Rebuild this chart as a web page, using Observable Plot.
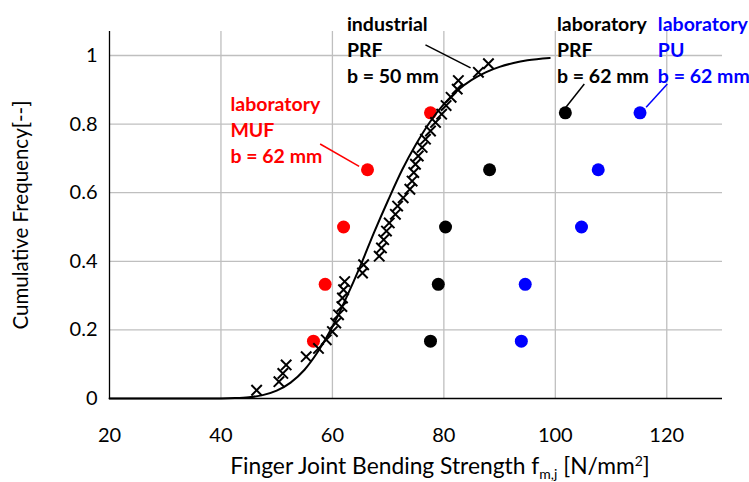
<!DOCTYPE html>
<html>
<head>
<meta charset="utf-8">
<script src="https://cdn.jsdelivr.net/npm/d3@7"></script>
<script src="https://cdn.jsdelivr.net/npm/@observablehq/plot@0.6"></script>
<style>
  html, body { margin: 0; padding: 0; background: #fff; }
  #chart { width: 749px; height: 482px; }
  svg { display: block; }
</style>
</head>
<body>
<div id="chart"></div>
<script>
// ---- data ----
const xTicks = [20, 40, 60, 80, 100, 120];
const yTicks = [0, 0.2, 0.4, 0.6, 0.8, 1];
const yTickLabels = ["0", "0.2", "0.4", "0.6", "0.8", "1"];

// industrial PRF, b = 50 mm (crosses)
const indX = [46.4, 50.4, 51.1, 51.7, 55.3, 57.5, 58.9, 60.0, 60.6, 61.1,
              61.7, 61.8, 62.0, 62.2, 65.4, 65.6, 68.4, 68.8, 69.2, 69.7,
              70.2, 71.3, 71.7, 72.7, 73.9, 74.3, 74.6, 74.9, 75.4, 76.1,
              76.7, 77.6, 78.5, 79.6, 80.4, 81.3, 82.4, 82.6, 86.2, 88.0];
const indY = [0.024, 0.049, 0.073, 0.098, 0.122, 0.146, 0.171, 0.195, 0.220, 0.244,
              0.268, 0.293, 0.317, 0.341, 0.366, 0.390, 0.415, 0.439, 0.463, 0.488,
              0.512, 0.537, 0.561, 0.585, 0.610, 0.634, 0.659, 0.683, 0.707, 0.732,
              0.756, 0.780, 0.805, 0.829, 0.854, 0.878, 0.902, 0.927, 0.951, 0.976];

// laboratory series (filled circles)
const labY = [0.167, 0.333, 0.5, 0.667, 0.833];
const mufX = [56.6, 58.7, 62.0, 66.3, 77.6];
const prfX = [77.6, 79.0, 80.3, 88.2, 101.8];
const puX  = [93.9, 94.6, 104.7, 107.7, 115.2];

// fitted cumulative distribution curve
const fitX = [20, 30, 40, 42.5, 45, 47.5, 50, 52.5, 55, 57.5, 60, 62.5, 65, 67.5,
              70, 72.5, 75, 77.5, 80, 82.5, 85, 87.5, 90, 92.5, 95, 99];
const fitY = [0, 0, 0.0003, 0.0011, 0.0036, 0.0098, 0.0228, 0.0464, 0.0838, 0.139,
              0.209, 0.294, 0.386, 0.485, 0.578, 0.666, 0.741, 0.806, 0.858, 0.899,
              0.929, 0.951, 0.967, 0.978, 0.986, 0.993];

// annotations
const annText  = ["industrial\nPRF\nb = 50 mm", "laboratory\nMUF\nb = 62 mm",
                  "laboratory\nPRF\nb = 62 mm", "laboratory\nPU\nb = 62 mm"];
const annX     = [62.6, 41.7, 100.3, 118.4];
const annY     = [1.124, 0.891, 1.124, 1.124];
const annColor = ["#000000", "#ff0000", "#000000", "#0000ff"];
const leadX1 = [76.7, 57.8, 105.2, 120.1];
const leadY1 = [1.031, 0.742, 0.917, 0.917];
const leadX2 = [84.8, 64.8, 101.9, 116.3];
const leadY2 = [0.964, 0.677, 0.849, 0.849];

// ---- tables ----
const industrial = indX.map((x, i) => ({x, y: indY[i]}));
const muf = mufX.map((x, i) => ({x, y: labY[i]}));
const prf = prfX.map((x, i) => ({x, y: labY[i]}));
const pu  = puX.map((x, i) => ({x, y: labY[i]}));
const fit = fitX.map((x, i) => ({x, y: fitY[i]}));
const ann = annText.map((t, i) => ({t, x: annX[i], y: annY[i], c: annColor[i]}));
const leads = leadX1.map((x1, i) => ({x1, y1: leadY1[i], x2: leadX2[i], y2: leadY2[i], c: annColor[i]}));

const FONT = "Lato, 'Open Sans', sans-serif";
const grid = "#bfbfbf";

const chart = Plot.plot({
  width: 749,
  height: 482,
  marginLeft: 109,
  marginRight: 27,
  marginTop: 31,
  marginBottom: 84,
  style: {fontFamily: FONT, fontSize: "20px", color: "#000", background: "#fff", overflow: "visible"},
  x: {domain: [20, 130]},
  y: {domain: [0, 1.07]},
  marks: [
    Plot.gridX(xTicks.slice(1), {stroke: grid, strokeOpacity: 1, strokeWidth: 1.3}),
    Plot.gridY(yTicks.slice(1), {stroke: grid, strokeOpacity: 1, strokeWidth: 1.3}),
    Plot.ruleX([20], {stroke: "#000", strokeWidth: 1.3}),
    Plot.ruleY([0], {stroke: "#000", strokeWidth: 1.3}),
    Plot.axisX({ticks: xTicks, tickSize: 0, tickPadding: 29, label: null, fontSize: 20}),
    Plot.axisY({ticks: yTicks, tickFormat: d => yTickLabels[yTicks.indexOf(d)], tickSize: 0, tickPadding: 12, label: null, fontSize: 20}),
    Plot.link(leads, {x1: "x1", y1: "y1", x2: "x2", y2: "y2", stroke: "c", strokeWidth: 1.5}),
    Plot.dot(muf, {x: "x", y: "y", r: 6.5, fill: "#ff0000"}),
    Plot.dot(prf, {x: "x", y: "y", r: 6.5, fill: "#000000"}),
    Plot.dot(pu,  {x: "x", y: "y", r: 6.5, fill: "#0000ff"}),
    Plot.line(fit, {x: "x", y: "y", curve: "monotone-x", stroke: "#000", strokeWidth: 2}),
    Plot.dot(industrial, {x: "x", y: "y", symbol: "times", r: 4.8, stroke: "#000", strokeWidth: 2}),
    Plot.text(ann, {x: "x", y: "y", text: "t", fill: "c", fontWeight: "bold", fontSize: 19.5,
                    textAnchor: "start", lineAnchor: "top", lineHeight: 1.32})
  ]
});

document.getElementById("chart").appendChild(chart);

// axis titles with sub/superscripts
const svg = d3.select(chart);
svg.append("text")
  .attr("transform", "translate(23,215) rotate(-90)")
  .attr("text-anchor", "middle")
  .attr("dominant-baseline", "middle")
  .attr("font-family", FONT)
  .attr("font-size", 20.5)
  .attr("fill", "#000")
  .text("Cumulative Frequency[--]");

const xt = svg.append("text")
  .attr("x", 440)
  .attr("y", 474)
  .attr("text-anchor", "middle")
  .attr("font-family", FONT)
  .attr("font-size", 22.8)
  .attr("fill", "#000");
xt.append("tspan").text("Finger Joint Bending Strength f");
xt.append("tspan").attr("font-size", 14).attr("dy", 5).text("m,j");
xt.append("tspan").attr("dy", -5).text(" [N/mm");
xt.append("tspan").attr("font-size", 14).attr("dy", -8).text("2");
xt.append("tspan").attr("dy", 8).text("]");
</script>
</body>
</html>
